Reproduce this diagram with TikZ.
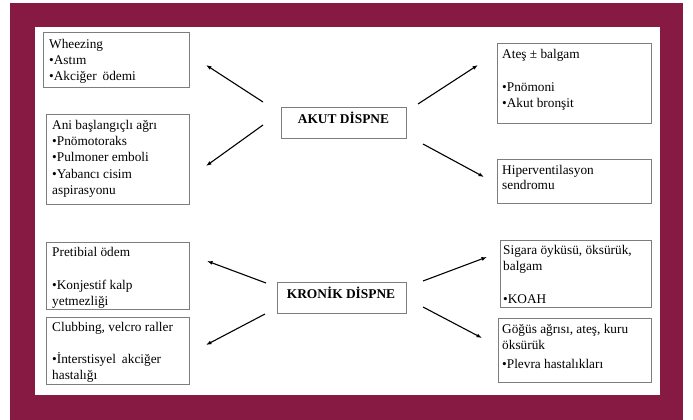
\documentclass[tikz,border=0pt]{standalone}
\usepackage{fontspec}
\setmainfont{Liberation Serif}
\usetikzlibrary{arrows.meta}
\definecolor{framecol}{RGB}{134,26,66}
\definecolor{edgecol}{RGB}{125,125,125}
\begin{document}
\begin{tikzpicture}[x=1pt,y=-1pt,
  panel/.style={draw=edgecol, line width=0.6pt, anchor=north west, inner sep=0pt},
  txt/.style={anchor=north west, inner sep=0pt, align=left,
              font=\fontsize{13.3}{16.2}\selectfont},
  head/.style={inner sep=0pt, font=\fontsize{13.4}{16}\selectfont\bfseries},
  arr/.style={line width=1.1pt, -{Latex[length=5.5pt,width=4pt]}}]
\useasboundingbox (0,0) rectangle (693,420);

% maroon frame around the white sheet
\fill[framecol] (10,3) rectangle (683,420);
\fill[white] (35,27) rectangle (660,395);

% ---- acute dyspnoea ----
\node[panel, minimum width=125, minimum height=31] (akut) at (281,107) {};
\node[head] (akutT) at (343.5,118) {AKUT DİSPNE};

\node[panel, minimum width=146, minimum height=55] (wheeze) at (43,32) {};
\node[txt] (wheezeT) at ([shift={(6,7)}]wheeze.north west)
  {Wheezing\\•Astım\\•Akciğer\hspace{0.45em}ödemi};

\node[panel, minimum width=143, minimum height=90] (onset) at (46,114) {};
\node[txt] (onsetT) at ([shift={(6,6)}]onset.north west)
  {Ani başlangıçlı ağrı\\•Pnömotoraks\\•Pulmoner emboli\\•Yabancı cisim\\aspirasyonu};

\node[panel, minimum width=154, minimum height=80] (fever) at (497,43) {};
\node[txt] (feverT) at ([shift={(5,6)}]fever.north west)
  {Ateş ± balgam\\[16.5pt]•Pnömoni\\•Akut bronşit};

\node[panel, minimum width=154, minimum height=44] (hyper) at (497,159) {};
\node[txt, font=\fontsize{13.3}{15}\selectfont] (hyperT) at ([shift={(5,6)}]hyper.north west)
  {Hiperventilasyon\\sendromu};

% ---- chronic dyspnoea ----
\node[panel, minimum width=129, minimum height=31] (kronik) at (277,282) {};
\node[head] (kronikT) at (341,293) {KRONİK DİSPNE};

\node[panel, minimum width=143, minimum height=67] (pretib) at (46,242) {};
\node[txt] (pretibT) at ([shift={(6,5)}]pretib.north west)
  {Pretibial ödem\\[16.5pt]•Konjestif kalp\\yetmezliği};

\node[panel, minimum width=143, minimum height=67] (club) at (46,317) {};
\node[txt] (clubT) at ([shift={(6,5)}]club.north west)
  {Clubbing, velcro raller\\[15.5pt]•İnterstisyel\hspace{0.45em}akciğer\\hastalığı};

\node[panel, minimum width=151, minimum height=67] (smoke) at (500,240) {};
\node[txt] (smokeT) at ([shift={(3,5)}]smoke.north west)
  {Sigara öyküsü, öksürük,\\balgam\\[16.5pt]•KOAH};

\node[panel, minimum width=153, minimum height=64] (chest) at (498,318) {};
\node[txt] (chestT) at ([shift={(4,6)}]chest.north west)
  {Göğüs ağrısı, ateş, kuru\\öksürük\\[3pt]•Plevra hastalıkları};

% arrow end points
\coordinate (a1s) at (263,102); \coordinate (a1e) at (206,65);
\coordinate (a2s) at (263,125); \coordinate (a2e) at (206,166);
\coordinate (a3s) at (418,104); \coordinate (a3e) at (478,65);
\coordinate (a4s) at (423,144); \coordinate (a4e) at (484,177);
\coordinate (b1s) at (266,283); \coordinate (b1e) at (207,261);
\coordinate (b2s) at (265,314); \coordinate (b2e) at (206,345);
\coordinate (b3s) at (423,281); \coordinate (b3e) at (487,257);
\coordinate (b4s) at (423,307); \coordinate (b4e) at (482,338);

\draw[arr] (a1s) -- (a1e);
\draw[arr] (a2s) -- (a2e);
\draw[arr] (a3s) -- (a3e);
\draw[arr] (a4s) -- (a4e);
\draw[arr] (b1s) -- (b1e);
\draw[arr] (b2s) -- (b2e);
\draw[arr] (b3s) -- (b3e);
\draw[arr] (b4s) -- (b4e);
\end{tikzpicture}
\end{document}
